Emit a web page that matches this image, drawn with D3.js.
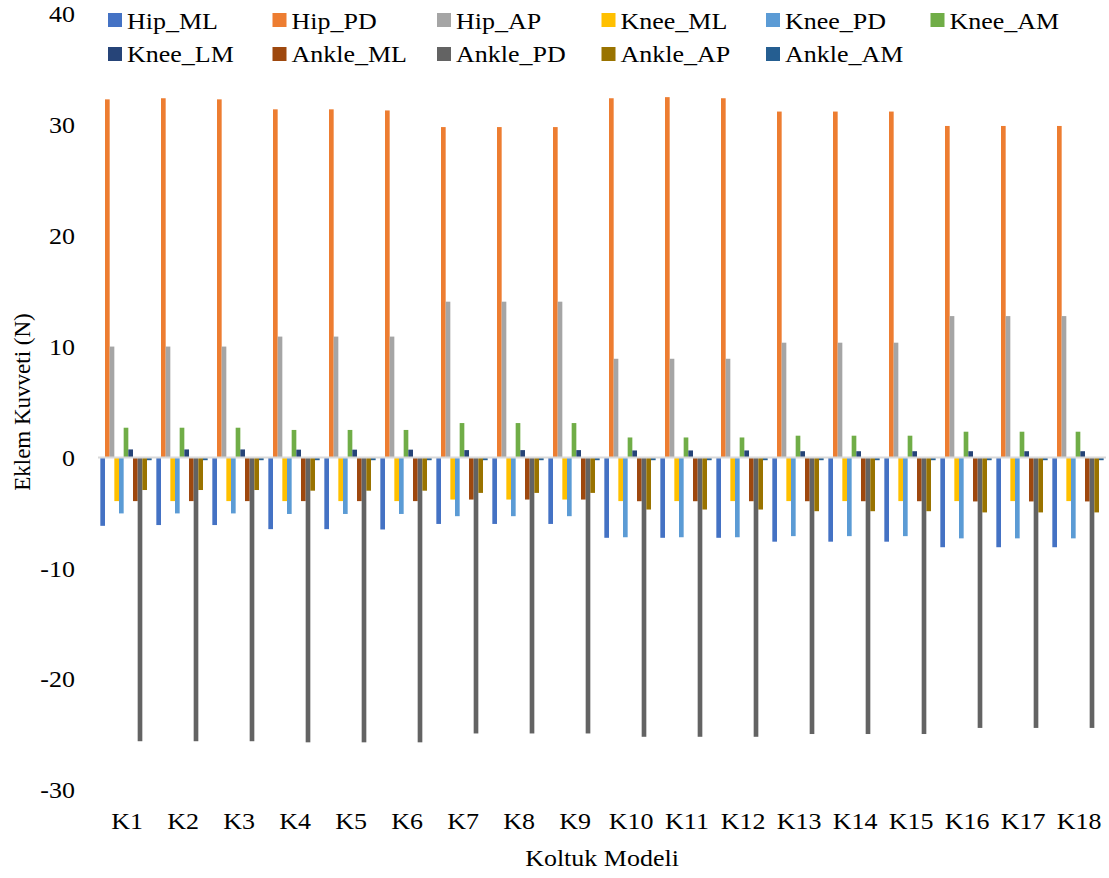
<!DOCTYPE html>
<html>
<head>
<meta charset="utf-8">
<script src="https://cdn.jsdelivr.net/npm/d3@7"></script>
<style>
  html, body { margin: 0; padding: 0; background: #fff; }
</style>
</head>
<body>
<svg id="chart" width="1109" height="878"></svg>
<script>
const categories = ["K1","K2","K3","K4","K5","K6","K7","K8","K9","K10","K11","K12","K13","K14","K15","K16","K17","K18"];
const seriesNames = ["Hip_ML","Hip_PD","Hip_AP","Knee_ML","Knee_PD","Knee_AM","Knee_LM","Ankle_ML","Ankle_PD","Ankle_AP","Ankle_AM"];
const seriesColors = ["#4472C4","#ED7D31","#A5A5A5","#FFC000","#5B9BD5","#70AD47","#264478","#9E480E","#636363","#997300","#255E91"];

const Hip_ML   = [-6.17,-6.1,-6.1,-6.47,-6.47,-6.5,-6.0,-6.0,-6.0,-7.25,-7.25,-7.25,-7.6,-7.6,-7.6,-8.1,-8.1,-8.1];
const Hip_PD   = [32.3,32.4,32.3,31.4,31.4,31.3,29.8,29.8,29.8,32.4,32.5,32.4,31.2,31.2,31.2,29.9,29.9,29.9];
const Hip_AP   = [10.0,10.0,10.0,10.9,10.9,10.9,14.05,14.05,14.05,8.9,8.9,8.9,10.35,10.35,10.35,12.75,12.75,12.75];
const Knee_ML  = [-3.94,-3.94,-3.94,-3.94,-3.94,-3.94,-3.8,-3.8,-3.8,-3.94,-3.94,-3.94,-3.94,-3.94,-3.94,-3.94,-3.94,-3.94];
const Knee_PD  = [-5.05,-5.05,-5.05,-5.1,-5.1,-5.1,-5.3,-5.3,-5.3,-7.2,-7.2,-7.2,-7.1,-7.1,-7.1,-7.3,-7.3,-7.3];
const Knee_AM  = [2.68,2.68,2.68,2.48,2.48,2.48,3.1,3.1,3.1,1.8,1.8,1.8,1.96,1.96,1.96,2.32,2.32,2.32];
const Knee_LM  = [0.72,0.72,0.72,0.7,0.7,0.7,0.66,0.66,0.66,0.63,0.63,0.63,0.56,0.56,0.56,0.56,0.56,0.56];
const Ankle_ML = [-3.94,-3.94,-3.94,-3.94,-3.94,-3.94,-3.8,-3.8,-3.8,-3.95,-3.95,-3.95,-3.95,-3.95,-3.95,-3.97,-3.97,-3.97];
const Ankle_PD = [-25.6,-25.6,-25.6,-25.7,-25.7,-25.7,-24.9,-24.9,-24.9,-25.2,-25.2,-25.2,-24.95,-24.95,-24.95,-24.4,-24.4,-24.4];
const Ankle_AP = [-2.94,-2.94,-2.94,-3.0,-3.0,-3.0,-3.2,-3.2,-3.2,-4.7,-4.7,-4.7,-4.85,-4.85,-4.85,-4.96,-4.96,-4.96];
const Ankle_AM = [-0.25,-0.25,-0.25,-0.25,-0.25,-0.25,-0.25,-0.25,-0.25,-0.25,-0.25,-0.25,-0.25,-0.25,-0.25,-0.25,-0.25,-0.25];
const yTicks = [-30,-20,-10,0,10,20,30,40];

const seriesValues = [Hip_ML,Hip_PD,Hip_AP,Knee_ML,Knee_PD,Knee_AM,Knee_LM,Ankle_ML,Ankle_PD,Ankle_AP,Ankle_AM];
const FONT = '"Liberation Serif"';
const SX = 1.13; // horizontal text stretch seen in the reference

const svg = d3.select("#chart");
const plot = {left: 98, right: 1106, top: 14, bottom: 790};

const x = d3.scaleBand().domain(categories).range([plot.left, plot.right]).paddingInner(0).paddingOuter(0);
const xs = d3.scaleBand().domain(seriesNames).range([0, x.bandwidth()]).paddingInner(0).paddingOuter(0.5);
const y = d3.scaleLinear().domain([-30, 40]).range([plot.bottom, plot.top]);

// bars
const groups = svg.append("g").selectAll("g")
  .data(seriesNames.map((n, i) => ({name: n, color: seriesColors[i], values: seriesValues[i]})))
  .join("g").attr("fill", d => d.color);

groups.selectAll("rect")
  .data(d => d.values.map((v, j) => ({name: d.name, cat: categories[j], v})))
  .join("rect")
  .attr("x", d => x(d.cat) + xs(d.name))
  .attr("width", xs.bandwidth())
  .attr("y", d => y(Math.max(0, d.v)))
  .attr("height", d => Math.abs(y(d.v) - y(0)));

// zero line
svg.append("line")
  .attr("x1", plot.left).attr("x2", plot.right)
  .attr("y1", y(0)).attr("y2", y(0))
  .attr("stroke", "#d9d9d9").attr("stroke-width", 2);

// y axis labels
const yAxis = d3.axisLeft(y).tickValues(yTicks).tickSize(0).tickPadding(0).tickFormat(d => String(d));
const yg = svg.append("g").attr("transform", `translate(75,0)`).call(yAxis);
yg.attr("font-family", null).attr("font-size", null);
yg.select(".domain").remove();
yg.selectAll("text").attr("x", 0).attr("dy", "0.34em").attr("transform", `scale(${SX},1)`)
  .style("font-family", FONT).style("font-size", "23px").attr("fill", "#000");

// x axis labels
const xAxis = d3.axisBottom(x).tickSize(0).tickPadding(0);
const xg = svg.append("g").attr("transform", `translate(1,813)`).call(xAxis);
xg.attr("font-family", null).attr("font-size", null);
xg.select(".domain").remove();
xg.selectAll("text").attr("transform", `scale(${SX},1)`)
  .style("font-family", FONT).style("font-size", "23px").attr("fill", "#000");

// axis titles
svg.append("g").attr("transform", "translate(602,866)")
  .append("text").attr("transform", `scale(${SX},1)`).attr("text-anchor", "middle")
  .style("font-family", FONT).style("font-size", "23px").text("Koltuk Modeli");
svg.append("text").attr("transform", "translate(30,402) rotate(-90)").attr("text-anchor", "middle")
  .style("font-family", FONT).style("font-size", "23px").text("Eklem Kuvveti (N)");

// legend
const legend = svg.append("g");
const colX = d3.scaleLinear().domain([0, 1]).range([108, 272.5]);
const rowY = [20, 54];
seriesNames.forEach((n, i) => {
  const col = i % 6, row = Math.floor(i / 6);
  const lx = colX(col), ly = rowY[row];
  const g = legend.append("g").attr("transform", `translate(${lx},${ly})`);
  g.append("rect").attr("x", 0).attr("y", -7).attr("width", 14).attr("height", 14).attr("fill", seriesColors[i]);
  g.append("g").attr("transform", `translate(19,${row === 0 ? 9 : 7.5})`)
    .append("text").attr("transform", `scale(${SX},1)`)
    .style("font-family", FONT).style("font-size", "23px").text(n);
});
</script>
</body>
</html>
